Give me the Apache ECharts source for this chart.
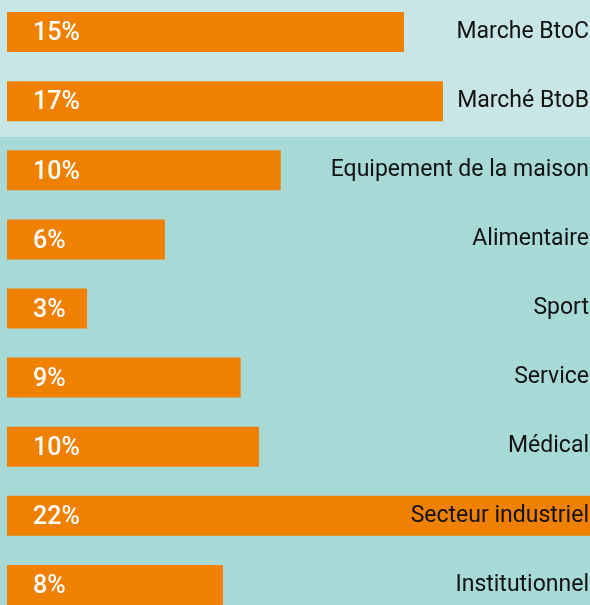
<!DOCTYPE html>
<html>
<head>
<meta charset="utf-8">
<script src="https://cdn.jsdelivr.net/npm/echarts@6/dist/echarts.min.js"></script>
<style>
    html, body { margin: 0; padding: 0; }
    #chart { width: 590px; height: 605px; }
</style>
</head>
<body>
<div id="chart"></div>
<script>
// catégories, de haut en bas
const categories = [
    "Marche BtoC",
    "Marché BtoB",
    "Equipement de la maison",
    "Alimentaire",
    "Sport",
    "Service",
    "Médical",
    "Secteur industriel",
    "Institutionnel",
]
// pourcentages affichés
const shares = [15, 17, 10, 6, 3, 9, 10, 22, 8]
// longueur des barres (en %)
const barLengths = [14.98, 16.45, 10.33, 5.96, 3.02, 8.82, 9.51, 22, 8.15]

const chart = echarts.init(document.getElementById("chart"))

chart.setOption({
    animation: false,
    backgroundColor: "#a7d9d6",
    graphic: [
        {
            type: "rect",
            z: -10,
            shape: { x: 0, y: 0, width: 590, height: 137 },
            style: { fill: "#c7e6e5" },
        },
    ],
    grid: {
        left: 7,
        right: 0,
        top: -2.5,
        height: 622,
        outerBoundsMode: "none",
    },
    xAxis: {
        type: "value",
        min: 0,
        max: 22,
        show: false,
    },
    yAxis: {
        type: "category",
        data: categories,
        inverse: true,
        position: "right",
        z: 10,
        axisLine: { show: false },
        axisTick: { show: false },
        splitLine: { show: false },
        axisLabel: {
            inside: true,
            margin: 1,
            padding: [3, 0, 0, 0],
            color: "#111",
            fontFamily: "Roboto",
            fontSize: 23,
        },
    },
    series: [
        {
            type: "bar",
            data: barLengths,
            barWidth: 40,
            itemStyle: { color: "#ef8000" },
            label: {
                show: true,
                position: [26, "50%"],
                offset: [0, 2],
                verticalAlign: "middle",
                color: "#fff",
                fontFamily: "Roboto",
                fontWeight: 500,
                fontSize: 25,
                formatter: p => shares[p.dataIndex] + "%",
            },
        },
    ],
})
</script>
</body>
</html>
